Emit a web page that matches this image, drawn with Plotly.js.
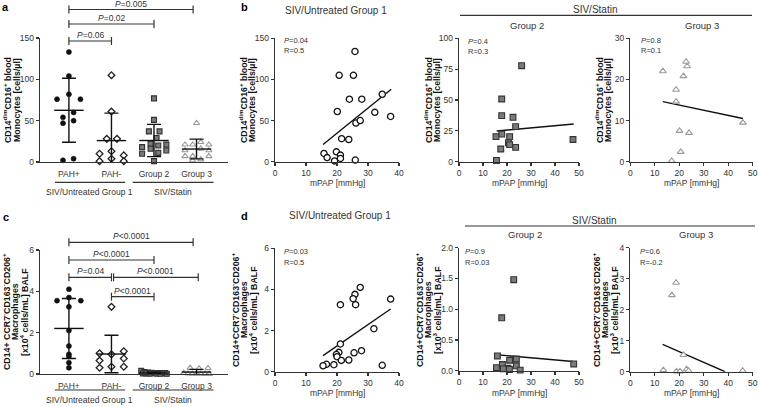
<!DOCTYPE html>
<html><head><meta charset="utf-8">
<script src="https://cdn.plot.ly/plotly-3.0.1.min.js"></script>
<style>html,body{margin:0;padding:0;background:#fff;}#chart{width:758px;height:407px;}</style>
</head><body><div id="chart"></div>
<script>
// ---------- DATA ----------
const categories = ['PAH+', 'PAH-', 'Group 2', 'Group 3'];
const groupNames = ['SIV/Untreated Group 1', 'SIV/Statin'];

// Panel a: CD14dim CD16+ blood monocytes [cells/ul]
const aPAHpos = [133, 104, 82, 76, 76, 60, 54, 50, 47, 2, 4];
const aPAHneg = [105, 61, 28, 28, 10, 13, 8, 1, 4, 1];
const aGroup2 = [77, 51, 37, 37, 29, 22, 18, 21, 20, 16, 10, 14, 11, 1];
const aGroup3 = [47, 24, 21, 21, 21, 16, 14, 14, 7, 7, 7, 3, 2];
const aPText = ['P=0.06', 'P=0.02', 'P=0.005'];

// Panel c: CD14+CCR7-CD163-CD206+ macrophages [x10^4 cells/mL] BALF
const cPAHpos = [4.1, 3.7, 3.55, 3.55, 3.25, 2.1, 1.35, 0.95, 0.85, 0.55, 0.3];
const cPAHneg = [3.25, 1.0, 0.65, 0.3, 0.95, 0.35, 1.1, 0.75, 0.35];
const cGroup2 = [0.15, 0.09, 0.07, 0.06, 0.05, 0.05, 0.04, 0.04, 0.03, 0.03, 0.02, 0.02, 0.01, 0.01];
const cGroup3 = [0.29, 0.27, 0.28, 0.05, 0.02, 0.01, 0.01, 0.01, 0.0, 0.0];
const cPText = ['P<0.0001', 'P<0.0001', 'P=0.04', 'P<0.0001', 'P<0.0001'];

// Panel b: monocytes vs mPAP
const bG1x = [25.8, 20.7, 25.3, 24.0, 28.0, 34.6, 32.2, 20.1, 37.3, 26.1, 27.5, 21.5, 23.8, 19.8, 15.8, 21.1, 16.8, 21.1, 19.2, 25.9];
const bG1y = [134, 105, 105, 76, 76, 82, 60, 61, 55, 47, 50, 28, 27, 12, 10, 8, 5, 4, 1, 2];
const bG1fitX = [15.5, 37.5], bG1fitY = [21, 88];
const bG2x = [26.1, 17.8, 17.8, 22.5, 23.6, 17.8, 15.4, 21.1, 20.6, 21.1, 23.6, 17.4, 15.6, 47.5];
const bG2y = [77.8, 50.8, 37.3, 36, 28.4, 22.4, 20.3, 20.3, 15.4, 13.8, 11.6, 10.3, 1, 18];
const bG2fitX = [15.7, 47.8], bG2fitY = [24.9, 30.5];
const bG3x = [13.3, 22.8, 23.2, 21.7, 18.7, 18.7, 20.1, 24.0, 20.6, 16.9, 46.0];
const bG3y = [22.0, 24.3, 23.2, 20.8, 17.5, 14.6, 7.5, 7.0, 2.4, 0.2, 9.5];
const bG3fitX = [13.3, 46.0], bG3fitY = [14.6, 10.5];
const bStats = [['P=0.04', 'R=0.5'], ['P=0.4', 'R=0.3'], ['P=0.8', 'R=0.1']];

// Panel d: macrophages vs mPAP
const dG1x = [27.5, 25.8, 25.2, 21.1, 26.0, 37.3, 31.9, 21.1, 20.6, 19.8, 20.0, 21.4, 25.5, 27.9, 23.8, 19.0, 16.6, 15.5, 34.6];
const dG1y = [4.1, 3.76, 3.55, 3.26, 3.26, 3.53, 2.09, 1.35, 0.94, 0.84, 0.73, 0.55, 0.92, 1.02, 0.57, 0.34, 0.36, 0.29, 0.31];
const dG1fitX = [15.5, 37.3], dG1fitY = [0.78, 3.05];
const dG2x = [22.8, 17.8, 16.0, 23.9, 21.1, 18.1, 23.9, 15.6, 20.4, 18.5, 25.5, 21.0, 47.8];
const dG2y = [1.48, 0.86, 0.24, 0.19, 0.17, 0.10, 0.08, 0.05, 0.04, 0.03, 0.01, 0.02, 0.11];
const dG2fitX = [15.6, 47.5], dG2fitY = [0.26, 0.15];
const dG3x = [18.7, 17.0, 21.7, 13.5, 18.9, 20.3, 23.0, 23.8, 45.9];
const dG3y = [2.87, 2.47, 0.54, 0.05, 0.01, 0.01, 0.08, 0.03, 0.03];
const dG3fitX = [13.2, 38.7], dG3fitY = [0.88, 0.0];
const dStats = [['P=0.03', 'R=0.5'], ['P=0.9', 'R=0.03'], ['P=0.6', 'R=-0.2']];

// ---------- LAYOUT HELPERS (positions/styles) ----------
// horizontal spread of points inside each category column (category units)
const aOff = [
  [0, 0, 0, -0.28, 0.27, 0.11, -0.14, 0.11, -0.14, -0.14, 0.11],
  [0, 0, -0.11, 0.13, -0.28, 0, 0.29, -0.28, 0, 0.29],
  [0, 0, -0.12, 0.13, 0.06, -0.08, -0.28, 0.29, 0.1, -0.08, -0.28, 0.29, 0.1, 0],
  [0, 0.1, -0.27, -0.09, 0.29, 0.1, -0.27, 0.29, -0.27, -0.09, 0.29, 0.1, -0.09]
];
const cOff = [
  [0, 0, -0.28, 0.28, 0, 0, 0, 0, 0, 0, 0],
  [0, -0.28, -0.28, -0.28, 0, 0, 0.29, 0.29, 0.29],
  [-0.3, -0.22, -0.14, -0.06, 0.02, 0.1, 0.18, 0.26, -0.26, -0.18, -0.1, 0.06, 0.14, 0.3],
  [-0.15, 0.06, 0.27, -0.3, -0.2, -0.1, 0, 0.1, 0.2, 0.3]
];

const W = 758, H = 407;
const PX = x => x / W, PY = y => 1 - y / H;
const FONT = 'Liberation Sans, Arial, sans-serif';
const TXT = '#333';

const mean = a => a.reduce((s, v) => s + v, 0) / a.length;
const sd = a => { const m = mean(a); return Math.sqrt(a.reduce((s, v) => s + (v - m) * (v - m), 0) / (a.length - 1)); };

const markerStyles = [
  {symbol: 'circle', size: 5, color: '#111', line: {color: '#111', width: 0.6}},
  {symbol: 'diamond', size: 5.2, color: '#fff', line: {color: '#222', width: 1.3}},
  {symbol: 'square', size: 5, color: '#7a7a7a', line: {color: '#333', width: 1.1}},
  {symbol: 'triangle-up', size: 5.5, color: '#fff', line: {color: '#9a9a9a', width: 1.1}}
];
const scatterStyles = [
  {symbol: 'circle', size: 6.2, color: '#fff', line: {color: '#111', width: 1.3}},
  {symbol: 'square', size: 5.8, color: '#7a7a7a', line: {color: '#333', width: 1.1}},
  {symbol: 'triangle-up', size: 6, color: '#fff', line: {color: '#9a9a9a', width: 1.1}}
];

const traces = [];
function catPanel(groups, offs, xa, ya) {
  groups.forEach((g, i) => {
    traces.push({type: 'scatter', mode: 'markers', x: g.map((v, k) => i + offs[i][k]), y: g,
      xaxis: xa, yaxis: ya, marker: markerStyles[i], cliponaxis: false, hoverinfo: 'skip', showlegend: false});
  });
  groups.forEach((g, i) => {
    traces.push({type: 'scatter', mode: 'markers', x: [i], y: [mean(g)], xaxis: xa, yaxis: ya,
      marker: {symbol: 'line-ew', size: 21, color: '#111', line: {color: '#111', width: 1.4}},
      error_y: {type: 'data', array: [sd(g)], visible: true, width: 7, thickness: 1.4, color: '#111'},
      cliponaxis: true, hoverinfo: 'skip', showlegend: false});
  });
}
catPanel([aPAHpos, aPAHneg, aGroup2, aGroup3], aOff, 'x', 'y');
catPanel([cPAHpos, cPAHneg, cGroup2, cGroup3], cOff, 'x5', 'y5');

function scPanel(xs, ys, fx, fy, st, xa, ya) {
  traces.push({type: 'scatter', mode: 'lines', x: fx, y: fy, xaxis: xa, yaxis: ya,
    line: {color: '#111', width: 1.4}, hoverinfo: 'skip', showlegend: false});
  traces.push({type: 'scatter', mode: 'markers', x: xs, y: ys, xaxis: xa, yaxis: ya,
    marker: st, cliponaxis: false, hoverinfo: 'skip', showlegend: false});
}
scPanel(bG1x, bG1y, bG1fitX, bG1fitY, scatterStyles[0], 'x2', 'y2');
scPanel(bG2x, bG2y, bG2fitX, bG2fitY, scatterStyles[1], 'x3', 'y3');
scPanel(bG3x, bG3y, bG3fitX, bG3fitY, scatterStyles[2], 'x4', 'y4');
scPanel(dG1x, dG1y, dG1fitX, dG1fitY, scatterStyles[0], 'x6', 'y6');
scPanel(dG2x, dG2y, dG2fitX, dG2fitY, scatterStyles[1], 'x7', 'y7');
scPanel(dG3x, dG3y, dG3fitX, dG3fitY, scatterStyles[2], 'x8', 'y8');

const axBase = {showline: true, linecolor: '#333', linewidth: 1.3, showgrid: false, zeroline: false,
  ticks: 'outside', ticklen: 3, tickwidth: 1.1, tickcolor: '#333', fixedrange: true,
  tickfont: {family: FONT, size: 8.5, color: TXT}};
function yax(top, bot, range, dtick, anchor, fmt) {
  return Object.assign({}, axBase, {domain: [PY(bot), PY(top)], range: range, dtick: dtick, tick0: 0,
    anchor: anchor, tickformat: fmt || ''});
}
function xax(l, r, range, anchor, cat) {
  const o = Object.assign({}, axBase, {domain: [PX(l), PX(r)], range: range, anchor: anchor});
  if (cat) { o.ticks = ''; o.tickvals = [0, 1, 2, 3]; o.ticktext = categories; o.ticklabelstandoff = 3;
    o.tickfont = {family: FONT, size: 8.5, color: TXT}; }
  else { o.dtick = 10; o.tick0 = 0; }
  return o;
}

const layout = {
  width: W, height: H, margin: {l: 0, r: 0, t: 0, b: 0}, paper_bgcolor: '#fff', plot_bgcolor: 'rgba(0,0,0,0)',
  showlegend: false, font: {family: FONT, color: TXT},
  xaxis: xax(40, 228, [-0.68, 3.74], 'y', true),
  yaxis: yax(38, 162, [0, 150], 50, 'x'),
  xaxis2: xax(275, 399, [0, 40], 'y2'),
  yaxis2: yax(38.3, 161.7, [0, 150], 50, 'x2'),
  xaxis3: xax(459, 579, [0, 50], 'y3'),
  yaxis3: yax(38.3, 161.7, [0, 100], 25, 'x3'),
  xaxis4: xax(630.3, 752.7, [0, 50], 'y4'),
  yaxis4: yax(38.3, 161.7, [0, 30], 10, 'x4'),
  xaxis5: xax(40, 228, [-0.68, 3.74], 'y5', true),
  yaxis5: yax(250, 374, [0, 6], 2, 'x5'),
  xaxis6: xax(275, 399, [0, 40], 'y6'),
  yaxis6: yax(248.3, 371.7, [0, 6], 2, 'x6'),
  xaxis7: xax(459, 579, [0, 50], 'y7'),
  yaxis7: yax(247.7, 370.7, [0, 2], 0.5, 'x7', '.1f'),
  xaxis8: xax(630.3, 752.7, [0, 50], 'y8'),
  yaxis8: yax(247.7, 371.7, [0, 4], 1, 'x8'),
  shapes: [], annotations: []
};

const ann = layout.annotations, shp = layout.shapes;
function txt(text, x, y, size, opts) {
  ann.push(Object.assign({text: text, x: PX(x), y: PY(y), xref: 'paper', yref: 'paper', showarrow: false,
    xanchor: 'center', yanchor: 'middle', font: {family: FONT, size: size, color: TXT}}, opts || {}));
}
function hline(x0, x1, y, xref) {
  shp.push({type: 'line', xref: xref || 'paper', yref: 'paper', x0: xref ? x0 : PX(x0), x1: xref ? x1 : PX(x1),
    y0: PY(y), y1: PY(y), line: {color: '#333', width: 1.2}});
}
function italP(s) { return s.replace(/^P/, '<i>P</i>'); }
function bracket(xref, c0, c1, y, label) {
  hline(c0, c1, y, xref);
  [c0, c1].forEach(c => shp.push({type: 'line', xref: xref, yref: 'paper', x0: c, x1: c,
    y0: PY(y - 4), y1: PY(y + 4), line: {color: '#333', width: 1.2}}));
  ann.push({text: italP(label), x: (c0 + c1) / 2, y: PY(y - 6), xref: xref, yref: 'paper', showarrow: false,
    xanchor: 'center', yanchor: 'middle', font: {family: FONT, size: 8.5, color: TXT}});
}
// panel letters
txt('<b>a</b>', 5, 7, 11, {font: {family: FONT, size: 11, color: '#000'}});
txt('<b>b</b>', 244, 7, 11, {font: {family: FONT, size: 11, color: '#000'}});
txt('<b>c</b>', 6, 217, 11, {font: {family: FONT, size: 11, color: '#000'}});
txt('<b>d</b>', 244, 216, 11, {font: {family: FONT, size: 11, color: '#000'}});

// brackets a
bracket('x', 0, 1, 41, aPText[0]);
bracket('x', 0, 2, 24, aPText[1]);
bracket('x', 0, 2.92, 9.5, aPText[2]);
// brackets c
bracket('x5', 0, 2.92, 242.3, cPText[0]);
bracket('x5', 0, 2, 260, cPText[1]);
bracket('x5', 0, 1, 277.3, cPText[2]);
bracket('x5', 1.05, 3.04, 277.3, cPText[3]);
bracket('x5', 1, 2, 296.7, cPText[4]);

// group lines under category labels
[['x', 182.3, 192], ['x5', 390, 400]].forEach(([xr, ly, ty]) => {
  hline(-0.33, 1.32, ly, xr);
  hline(1.5, 3.4, ly, xr);
  ann.push({text: groupNames[0], x: 0.49, y: PY(ty), xref: xr, yref: 'paper', showarrow: false, xanchor: 'center', yanchor: 'middle', font: {family: FONT, size: 8.5, color: TXT}});
  ann.push({text: groupNames[1], x: 2.45, y: PY(ty), xref: xr, yref: 'paper', showarrow: false, xanchor: 'center', yanchor: 'middle', font: {family: FONT, size: 8.5, color: TXT}});
});

// y titles (rotated, each line separately)
function ytitle(lines, xs, yc) {
  lines.forEach((l, i) => txt('<b>' + l + '</b>', xs[i], yc, 8.8, {textangle: -90, font: {family: FONT, size: 8.8, color: '#111'}}));
}
const monoT = ['CD14<sup>dim</sup>CD16<sup>+</sup> blood', 'Monocytes [cells/µl]'];
ytitle(monoT, [7, 17], 100);
ytitle(monoT, [243, 252], 100);
ytitle(monoT, [428, 437], 100);
ytitle(monoT, [599, 608], 100);
ytitle(['CD14+ CCR7<sup>-</sup>CD163<sup>-</sup>CD206<sup>+</sup>', 'Macrophages', '[x10<sup>4</sup> cells/mL] BALF'], [6, 15, 24], 312);
const macT3 = ['CD14+CCR7<sup>-</sup>CD163<sup>-</sup>CD206<sup>+</sup>', 'Macrophages', '[x10<sup>3</sup> cells/mL] BALF'];
ytitle(['CD14+CCR7<sup>-</sup>CD163<sup>-</sup>CD206<sup>+</sup>', 'Macrophages', '[x10<sup>4</sup> cells/mL] BALF'], [235, 244, 253], 310);
ytitle(macT3, [419, 428, 437], 310);
ytitle(macT3, [596, 605, 614], 310);

// scatter headers
txt('SIV/Untreated Group 1', 336, 11, 10);
txt('SIV/Untreated Group 1', 340, 215, 10);
txt('Group 2', 527, 25, 9.5);
txt('Group 3', 702, 25, 9.5);
txt('Group 2', 525, 234, 9.5);
txt('Group 3', 696, 234, 9.5);
txt('SIV/Statin', 595, 9, 10);
txt('SIV/Statin', 594, 220.5, 10);
hline(460, 752, 15.3);
hline(465, 755, 226);

// x titles
[[337, 183], [519, 183], [691, 183], [337, 393], [519, 393], [691, 393]].forEach(([x, y]) => txt('mPAP [mmHg]', x, y, 8.5));

// stats
const statPos = [[282, 40], [466, 41], [639, 40]];
bStats.forEach((s, i) => { txt(italP(s[0]), statPos[i][0], statPos[i][1], 7.5, {xanchor: 'left'}); txt(s[1], statPos[i][0], statPos[i][1] + 11, 7.5, {xanchor: 'left'}); });
const statPosD = [[282, 251], [463, 251], [638, 251]];
dStats.forEach((s, i) => { txt(italP(s[0]), statPosD[i][0], statPosD[i][1], 7.5, {xanchor: 'left'}); txt(s[1], statPosD[i][0], statPosD[i][1] + 11, 7.5, {xanchor: 'left'}); });

Plotly.newPlot('chart', traces, layout, {staticPlot: true, displayModeBar: false});
</script></body></html>
